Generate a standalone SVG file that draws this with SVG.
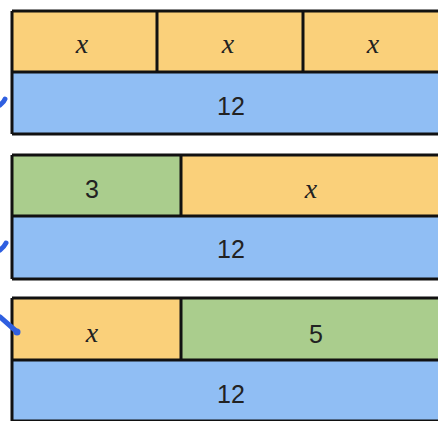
<svg xmlns="http://www.w3.org/2000/svg" width="438" height="421" viewBox="0 0 438 421">
<style>
.y{fill:#FAD07A}
.b{fill:#90BEF4}
.g{fill:#AACD8D}
.ln{fill:none;stroke:#111;stroke-width:3}
.v{font-family:"Liberation Serif",serif;font-style:italic;font-size:28px;fill:#222;text-anchor:middle}
.n{font-family:"Liberation Sans",Arial,sans-serif;font-size:25px;fill:#222;text-anchor:middle}
.pen{fill:none;stroke:#2F5FE0;stroke-width:5;stroke-linecap:round}
</style>
<rect width="438" height="421" fill="#fff"/>
<g id="bar1">
<rect class="y" x="12" y="11" width="440" height="61"/>
<rect class="b" x="12" y="72" width="440" height="62"/>
<path class="ln" d="M12,11H452M12,72H452M12,134H452M12,11V134M157,11V72M303,11V72"/>
<text class="v" x="82" y="53">x</text>
<text class="v" x="228" y="53">x</text>
<text class="v" x="373" y="53">x</text>
<text class="n" x="231" y="115">12</text>
</g>
<g id="bar2">
<rect class="g" x="12" y="155" width="169" height="61"/>
<rect class="y" x="181" y="155" width="271" height="61"/>
<rect class="b" x="12" y="216" width="440" height="63"/>
<path class="ln" d="M12,155H452M12,216H452M12,279H452M12,155V279M181,155V216"/>
<text class="n" x="92" y="198">3</text>
<text class="v" x="311" y="198">x</text>
<text class="n" x="231" y="258">12</text>
</g>
<g id="bar3">
<rect class="y" x="12" y="298" width="169" height="62"/>
<rect class="g" x="181" y="298" width="271" height="62"/>
<rect class="b" x="12" y="360" width="440" height="62"/>
<path class="ln" d="M12,298H452M12,360H452M12,421H452M12,298V421M181,298V360"/>
<text class="v" x="92" y="342">x</text>
<text class="n" x="316" y="343">5</text>
<text class="n" x="231" y="403">12</text>
</g>
<g id="connectors">
<path class="pen" d="M0,105Q4,102 5,99"/>
<path class="pen" d="M0,250Q4,247 6,243"/>
<path class="pen" d="M0,317L16,331"/>
<circle cx="17" cy="332" r="3.5" fill="#2F5FE0"/>
</g>
</svg>
